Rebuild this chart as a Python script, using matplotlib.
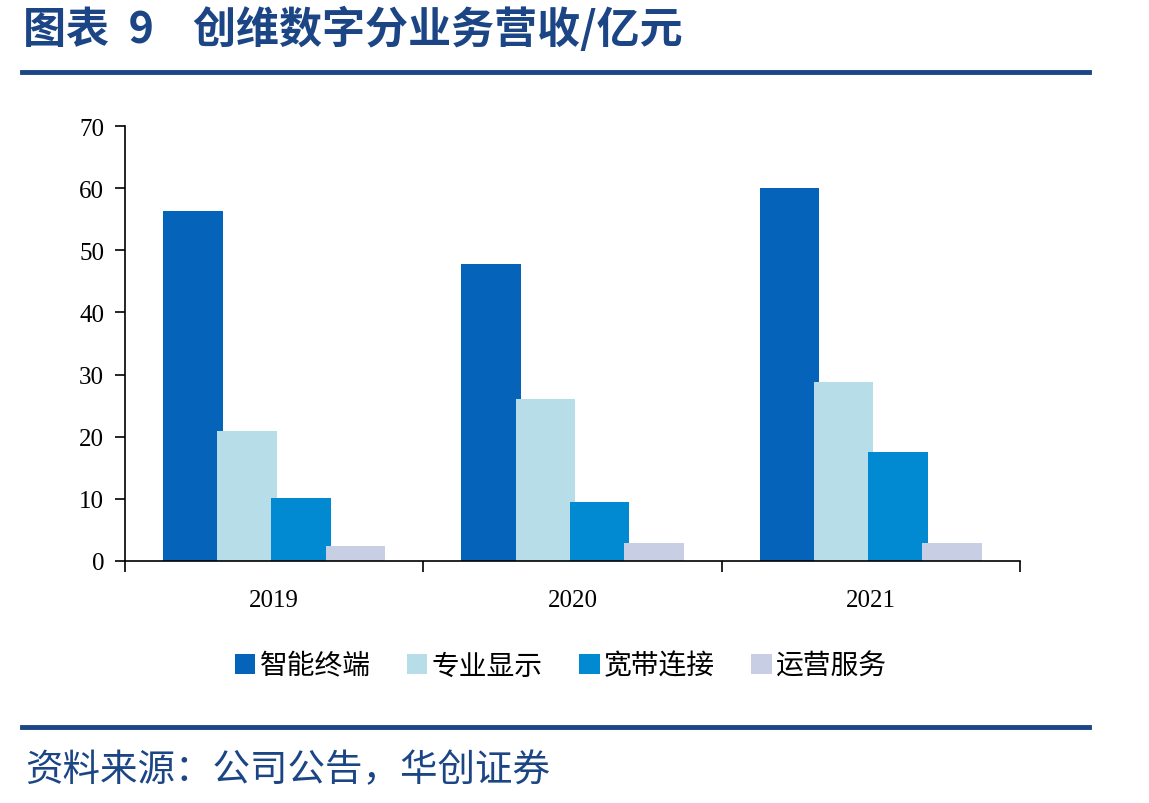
import numpy as np
import matplotlib
matplotlib.use('Agg')
import matplotlib.pyplot as plt
from matplotlib.lines import Line2D

plt.rcParams['font.family'] = ['Noto Sans CJK SC', 'DejaVu Sans']

# data (亿元)
years = ['2019', '2020', '2021']
series = ['智能终端', '专业显示', '宽带连接', '运营服务']
zhineng = [56.3, 47.8, 60.0]
zhuanye = [20.9, 26.1, 28.8]
kuandai = [10.1, 9.5, 17.5]
yunying = [2.4, 2.9, 2.9]
colors = ['#0563B9', '#B7DDE8', '#0189D1', '#C8CEE3']

navy = '#1B4584'

fig = plt.figure(figsize=(11.49, 8.04), dpi=100)
ax = fig.add_axes([0.1088, 0.301, 0.7789, 0.541])

x = np.arange(len(years))
step = 0.182
width = 0.2
for i, (vals, name) in enumerate(zip([zhineng, zhuanye, kuandai, yunying], series)):
    ax.bar(x + (i - 1.5) * step, vals, width, color=colors[i], label=name, zorder=2 + i)

ax.set_xlim(-0.5, 2.5)
ax.set_ylim(0, 70)
ax.set_yticks(range(0, 71, 10))
ax.set_xticks([-0.5, 0.5, 1.5, 2.5])
ax.set_xticklabels([])
ax.set_xticks(x, minor=True)
ax.set_xticklabels(years, minor=True)
ax.tick_params(axis='x', which='minor', length=0, pad=20)
ax.tick_params(axis='x', which='major', length=8, direction='out', width=1.2)
ax.tick_params(axis='y', length=7, direction='out', width=1.2, pad=8)
for lab in ax.get_yticklabels() + ax.get_xticklabels(minor=True):
    lab.set_fontfamily('Liberation Serif')
    lab.set_fontsize(18)
for s in ['top', 'right']:
    ax.spines[s].set_visible(False)
for s in ['left', 'bottom']:
    ax.spines[s].set_linewidth(1.2)
ax.spines['bottom'].set_zorder(10)

leg = fig.legend(loc='center', bbox_to_anchor=(0.488, 0.171), ncol=4, frameon=False,
                 fontsize=20, handlelength=0.75, handleheight=0.75, handletextpad=0.15,
                 columnspacing=1.3)

# title and rules
fig.text(0.02, 0.963, '图表  9    创维数字分业务营收/亿元', fontsize=31, fontweight='bold',
         color=navy, va='center', ha='left')
fig.add_artist(Line2D([0.019, 0.948], [0.909, 0.909], color=navy, lw=3.5))
fig.add_artist(Line2D([0.019, 0.948], [0.095, 0.095], color=navy, lw=3.5))
fig.text(0.022, 0.042, '资料来源：公司公告，华创证券', fontsize=27, style='italic',
         color=navy, va='center', ha='left')

fig.savefig('out.png', dpi=100)
